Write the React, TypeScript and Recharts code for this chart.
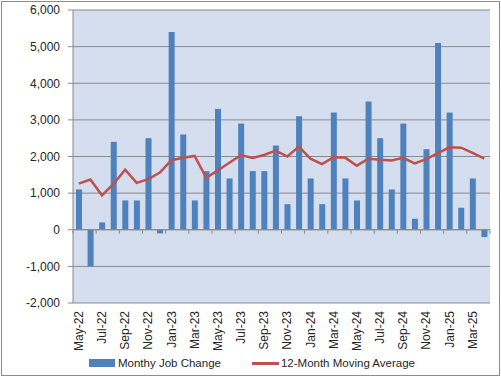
import React from "react";
import {
  ComposedChart,
  Bar,
  Line,
  XAxis,
  YAxis,
  CartesianGrid,
  ReferenceLine,
  Legend,
} from "recharts";

const months = [
  "May-22", "Jun-22", "Jul-22", "Aug-22", "Sep-22", "Oct-22", "Nov-22", "Dec-22",
  "Jan-23", "Feb-23", "Mar-23", "Apr-23", "May-23", "Jun-23", "Jul-23", "Aug-23",
  "Sep-23", "Oct-23", "Nov-23", "Dec-23", "Jan-24", "Feb-24", "Mar-24", "Apr-24",
  "May-24", "Jun-24", "Jul-24", "Aug-24", "Sep-24", "Oct-24", "Nov-24", "Dec-24",
  "Jan-25", "Feb-25", "Mar-25", "Apr-25",
];

const jobChange = [
  1100, -1000, 200, 2400, 800, 800, 2500, -100,
  5400, 2600, 800, 1600, 3300, 1400, 2900, 1600,
  1600, 2300, 700, 3100, 1400, 700, 3200, 1400,
  800, 3500, 2500, 1100, 2900, 300, 2200, 5100,
  3200, 600, 1400, -200,
];

const movingAvg = [
  1260, 1370, 940, 1250, 1640, 1280, 1380, 1560,
  1900, 1965, 2015, 1420, 1620, 1830, 2040, 1960,
  2040, 2160, 2000, 2270, 1940, 1790, 1980, 1970,
  1750, 1940, 1910, 1890, 1965, 1810, 1930, 2090,
  2250, 2240, 2100, 1940,
];

const yTicks = [-2000, -1000, 0, 1000, 2000, 3000, 4000, 5000, 6000];

const seriesNames = ["Monthy Job Change", "12-Month Moving Average"];

const data = months.map((m, i) => ({
  month: m,
  jobs: jobChange[i],
  avg: movingAvg[i],
}));

const FONT = "'Liberation Sans', Arial, sans-serif";
const TEXT = "#262626";
const AXIS = "#8a8a8a";
const BLUE = "#4F81BD";
const RED = "#C0504D";

const XTick = (props: any) => {
  const { x, y, payload } = props;
  return (
    <text
      x={x}
      y={y}
      transform={`rotate(-90 ${x} ${y})`}
      textAnchor="end"
      dy="0.35em"
      fontSize={12}
      fontFamily={FONT}
      fill={TEXT}
    >
      {payload.value}
    </text>
  );
};

const ZeroAxis = (props: any) => {
  const { x1, x2, y1, y2 } = props;
  const n = months.length;
  const step = (x2 - x1) / n;
  const ticks: any[] = [];
  for (let k = 0; k <= n; k += 2) {
    const x = x1 + k * step;
    ticks.push(
      <line key={k} x1={x} x2={x} y1={y1} y2={y1 + 4} stroke={AXIS} strokeWidth={1} />
    );
  }
  return (
    <g>
      <line x1={x1} x2={x2} y1={y1} y2={y2} stroke={AXIS} strokeWidth={1} />
      {ticks}
    </g>
  );
};

const LegendContent = (props: any) => {
  const payload = [...(props.payload || [])].sort((a: any, b: any) => {
    const ia = seriesNames.indexOf(a.value);
    const ib = seriesNames.indexOf(b.value);
    return ia - ib;
  });
  return (
    <div
      style={{
        display: "flex",
        alignItems: "center",
        fontFamily: FONT,
        fontSize: 11.5,
        color: TEXT,
        height: 16,
        whiteSpace: "nowrap",
      }}
    >
      {payload.map((p: any, i: number) => (
        <div key={i} style={{ display: "flex", alignItems: "center", marginRight: i === 0 ? 31 : 0 }}>
          {p.type === "line" ? (
            <span style={{ display: "inline-block", width: 27, height: 3, background: p.color, marginRight: 2 }} />
          ) : (
            <span style={{ display: "inline-block", width: 26, height: 8, background: p.color, marginRight: 3 }} />
          )}
          <span>{p.value}</span>
        </div>
      ))}
    </div>
  );
};

export default function App() {
  return (
    <div style={{ position: "absolute", left: 0, top: 0, width: 501, height: 376, background: "#fff" }}>
      <div
        style={{
          position: "absolute",
          left: 1,
          top: 1,
          width: 499,
          height: 375,
          boxSizing: "border-box",
          border: "1px solid #8c8c8c",
        }}
      />
      <ComposedChart
        width={501}
        height={376}
        data={data}
        margin={{ top: 10, right: 11, bottom: 0, left: 0 }}
        style={{ position: "absolute", left: 0, top: 0 }}
      >
        <CartesianGrid
          vertical={false}
          stroke={AXIS}
          strokeWidth={1}
          fill="#D4DEEF"
          fillOpacity={1}
        />
        <XAxis
          dataKey="month"
          interval={1}
          height={73}
          tickSize={0}
          tickMargin={8}
          axisLine={false}
          tickLine={false}
          tick={<XTick />}
        />
        <YAxis
          width={73}
          domain={[-2000, 6000]}
          ticks={yTicks}
          interval={0}
          tickFormatter={(v: number) => v.toLocaleString("en-US")}
          tick={{ fontSize: 12, fontFamily: FONT, fill: TEXT }}
          axisLine={{ stroke: AXIS }}
          tickLine={{ stroke: AXIS }}
          tickSize={5}
          tickMargin={8}
        />
        <YAxis
          yAxisId="right"
          orientation="right"
          width={0}
          tick={false}
          tickLine={false}
          axisLine={{ stroke: AXIS }}
        />
        <ReferenceLine y={0} shape={<ZeroAxis />} />
        <Bar
          dataKey="jobs"
          name={seriesNames[0]}
          fill={BLUE}
          barSize={6}
          isAnimationActive={false}
          legendType="rect"
        />
        <Line
          dataKey="avg"
          name={seriesNames[1]}
          stroke={RED}
          strokeWidth={2.5}
          dot={false}
          activeDot={false}
          type="linear"
          isAnimationActive={false}
          legendType="line"
        />
        <Legend
          verticalAlign="middle"
          layout="horizontal"
          content={<LegendContent />}
          wrapperStyle={{ left: 89, top: 355, width: 400, height: 16 }}
        />
      </ComposedChart>
    </div>
  );
}
